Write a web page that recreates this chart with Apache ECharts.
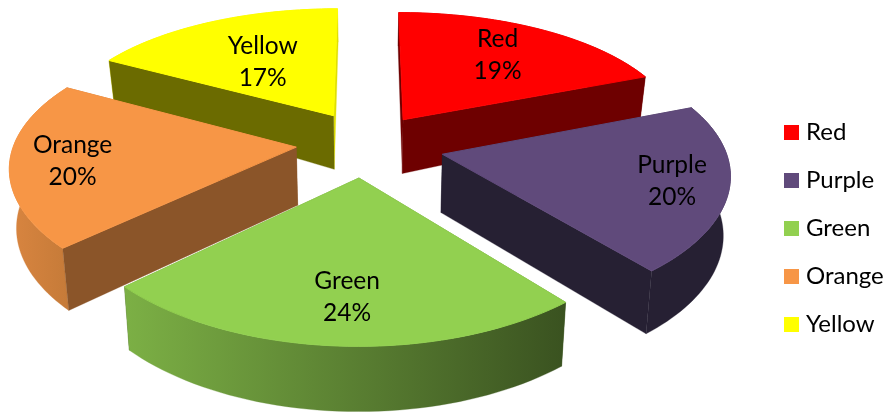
<!DOCTYPE html>
<html><head><meta charset="utf-8">
<style>html,body{margin:0;padding:0;background:#fff}#c{width:886px;height:412px}</style>
<script src="https://cdn.jsdelivr.net/npm/echarts@6/dist/echarts.min.js"></script>
</head><body><div id="c"></div>
<script>
const categories = ['Red','Purple','Green','Orange','Yellow'];
const values = [19,20,24,20,17];
const topColors = ['#ff0000','#604a7b','#92d050','#f79646','#ffff00'];
const startCutColors = ['#6e0000','#262033','#3f5a22','#8b5529','#6b6b00'];
const endCutColors = ['#6e0000','#262033','#3f5a22','#8b5529','#e0e000'];
const wallStops = [
  ['#8c0000','#6e0000'],
  ['#262033','#262033'],
  ['#7cb045','#3a5220'],
  ['#d98540','#c47a38'],
  ['#e0e000','#e0e000']
];
const drawOrder = ['Yellow','Red','Orange','Purple','Green'];
const sliceNudge = {Red:[-6,1],Purple:[3,1],Green:[-7,-1],Orange:[-4,-2],Yellow:[-2,-2]};
const labelShift = {Red:[7,-6],Purple:[54,6],Green:[1,22],Orange:[-47,4],Yellow:[8,7]};

const view = {cx:370.5,cy:145,A:282,B:131,kx:0.13,ky:0.153,explode:0.25,depth:58,growFront:0.1,growBack:0.35,taper:0.98};
const total = values.reduce((a,b)=>a+b,0);
const FONT = 'Lato, Carlito, sans-serif';

function project(i,X,Y,low){
  const nudge = sliceNudge[categories[i]];
  let x = view.A*X/(1-view.kx*Y), y = view.B*Y/(1-view.ky*Y);
  if(low){ x *= view.taper; y += view.depth*(1+(Y>0?view.growFront:view.growBack)*Y); }
  return [view.cx+nudge[0]+x, view.cy+nudge[1]+y];
}
function sliceWorld(i,th,r){
  let before=0; for(let j=0;j<i;j++) before+=values[j];
  const mid=(before+values[i]/2)/total*2*Math.PI;
  return [view.explode*Math.sin(mid)+r*Math.sin(th), -view.explode*Math.cos(mid)-r*Math.cos(th)];
}
function renderSlice(i){
  let before=0; for(let j=0;j<i;j++) before+=values[j];
  const a0=before/total*2*Math.PI, a1=(before+values[i])/total*2*Math.PI;
  const N=48, topArc=[], lowArc=[];
  for(let n=0;n<=N;n++){
    const t=a0+(a1-a0)*n/N, w=sliceWorld(i,t,1);
    topArc.push(project(i,w[0],w[1],false)); lowArc.push(project(i,w[0],w[1],true));
  }
  const c=sliceWorld(i,0,0), cT=project(i,c[0],c[1],false), cL=project(i,c[0],c[1],true);
  const poly=(pts,fill,z,lw)=>({type:'polygon',shape:{points:pts},style:{fill:fill,stroke:fill,lineWidth:lw,lineJoin:'round'},z2:z});
  const cutA=[cT,topArc[0],lowArc[0],cL], cutB=[cT,topArc[N],lowArc[N],cL];
  const wall=topArc.concat(lowArc.slice().reverse());
  const wallFill={type:'linear',x:0,y:0,x2:1,y2:0,colorStops:[{offset:0,color:wallStops[i][0]},{offset:1,color:wallStops[i][1]}]};
  const meanY=pts=>pts.reduce((s,p)=>s+p[1],0)/pts.length;
  const faces=[{p:cutA,f:startCutColors[i]},{p:cutB,f:endCutColors[i]},{p:wall,f:wallFill}].sort((a,b)=>meanY(a.p)-meanY(b.p));
  const children=faces.map((o,n)=>poly(o.p,o.f,n+1,0.3));
  children.push(poly(topArc.concat([cT]),topColors[i],10,1));
  const midT=(a0+a1)/2, lw=sliceWorld(i,midT,0.62), lp=project(i,lw[0],lw[1],false), sh=labelShift[categories[i]];
  children.push({type:'text',z2:20,style:{x:lp[0]+sh[0],y:lp[1]+sh[1],text:categories[i]+'\n'+values[i]+'%',fill:'#000',font:'24.5px '+FONT,align:'center',verticalAlign:'middle',lineHeight:32}});
  return {type:'group',children};
}
const chart=echarts.init(document.getElementById('c'),null,{renderer:'canvas'});
chart.setOption({
  animation:false,
  legend:{orient:'vertical',left:784,top:119,padding:0,itemWidth:15,itemHeight:15,itemGap:21,icon:'rect',
    data:categories,textStyle:{fontFamily:FONT,fontSize:24,color:'#000',lineHeight:27,padding:[0,0,0,2]}},
  series:categories.map((name,i)=>({
    type:'custom',name,coordinateSystem:'none',
    z:2+drawOrder.indexOf(name),
    itemStyle:{color:topColors[i]},
    data:[values[i]],
    renderItem:()=>renderSlice(i)
  }))
});
</script></body></html>
